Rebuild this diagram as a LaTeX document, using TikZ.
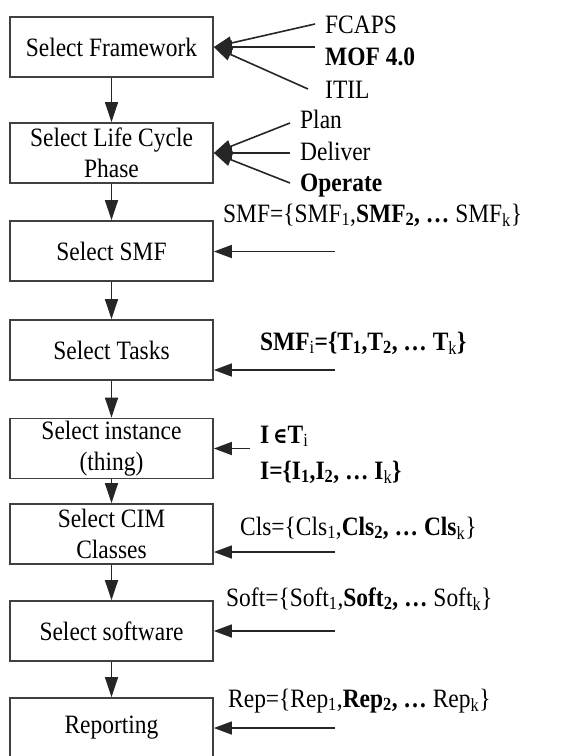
\documentclass[tikz,border=0pt]{standalone}
\usepackage{fontspec}
\usepackage{graphicx}
\setmainfont{Liberation Serif}
\newfontfamily\symfnt{DejaVu Serif}
\usetikzlibrary{arrows.meta}
\newcommand\sbs[1]{\textsubscript{#1}}
\newcommand\sq[1]{\scalebox{0.885}[1]{#1}}
\begin{document}
\begin{tikzpicture}[x=1pt,y=-1pt,
  box/.style={draw=black!75, line width=1.7pt, minimum width=203pt, minimum height=60pt,
    align=center, inner sep=0pt, font=\fontsize{26.5}{31}\selectfont},
  lbl/.style={anchor=base west, inner sep=0pt, font=\fontsize{26.5}{31}\selectfont},
  flow/.style={draw=black!85, line width=1.5pt, -{Triangle[length=20pt,width=13pt]}},
  feed/.style={draw=black!85, line width=1.6pt, -{Triangle[length=18pt,width=13pt]}}]
\useasboundingbox (0,0) rectangle (584,756);

% boxes
\node[box] (b1) at (111.5,47)    {\sq{Select Framework}};
\node[box] (b2) at (111.5,153)   {\sq{Select Life Cycle}\\\sq{Phase}};
\node[box] (b3) at (111.5,251)   {\sq{Select SMF}};
\node[box] (b4) at (111.5,350)   {\sq{Select Tasks}};
\node[box] (b5) at (111.5,448.5) {\sq{Select instance}\\\sq{(thing)}};
\node[box] (b6) at (111.5,534)   {\sq{Select CIM}\\\sq{Classes}};
\node[box] (b7) at (111.5,631)   {\sq{Select software}};
\node[box] (b8) at (111.5,728)   {\sq{Reporting}};

% flow arrows
\draw[flow] (b1) -- (b2);
\draw[flow] (b2) -- (b3);
\draw[flow] (b3) -- (b4);
\draw[flow] (b4) -- (b5);
\draw[flow] (b5) -- (b6);
\draw[flow] (b6) -- (b7);
\draw[flow] (b7) -- (b8);

% labels
\node[lbl] (fcaps) at (325,33)  {\sq{FCAPS}};
\node[lbl] (mof)   at (325,65)  {\sq{\textbf{MOF 4.0}}};
\node[lbl] (itil)  at (325,98)  {\sq{ITIL}};
\node[lbl] (plan)  at (300,128) {\sq{Plan}};
\node[lbl] (deliv) at (300,160) {\sq{Deliver}};
\node[lbl] (oper)  at (300,191) {\sq{\textbf{Operate}}};
\node[lbl] (smf)   at (223,222) {\sq{SMF=\{SMF\sbs{1},\textbf{SMF\sbs{2}, …} SMF\sbs{k}\}}};
\node[lbl] (smfi)  at (260,350) {\sq{\textbf{SMF}\sbs{i}\textbf{=\{T\sbs{1},T\sbs{2}, … T}\sbs{k}\textbf{\}}}};
\node[lbl] (iin)   at (260,443) {\sq{\textbf{I\,{\symfnt\fontsize{22}{26}\selectfont ∈}T}\sbs{i}}};
\node[lbl] (iset)  at (260,479) {\sq{\textbf{I=\{I\sbs{1},I\sbs{2}, … I}\sbs{k}\textbf{\}}}};
\node[lbl] (cls)   at (240,535) {\sq{Cls=\{Cls\sbs{1},\textbf{Cls\sbs{2}, … Cls}\sbs{k}\}}};
\node[lbl] (soft)  at (226,606) {\sq{Soft=\{Soft\sbs{1},\textbf{Soft\sbs{2}, …} Soft\sbs{k}\}}};
\node[lbl] (rep)   at (228,707) {\sq{Rep=\{Rep\sbs{1},\textbf{Rep\sbs{2}, …} Rep\sbs{k}\}}};

% feed line ends
\coordinate (e1a) at (315,24);
\coordinate (e1b) at (315,47);
\coordinate (e1c) at (308,89);
\coordinate (e2a) at (290,123);
\coordinate (e2b) at (290,153);
\coordinate (e2c) at (290,183);
\coordinate (e3) at (335,251.5);
\coordinate (e4) at (335,370);
\coordinate (e5) at (250,448.5);
\coordinate (e6) at (335,552);
\coordinate (e7) at (335,631);
\coordinate (e8) at (335,728);

\draw[feed] (e1a) -- (b1.east);
\draw[feed] (e1b) -- (b1.east);
\draw[feed] (e1c) -- (b1.east);
\draw[feed] (e2a) -- (b2.east);
\draw[feed] (e2b) -- (b2.east);
\draw[feed] (e2c) -- (b2.east);
\draw[feed] (e3) -- (e3 -| b3.east);
\draw[feed] (e4) -- (e4 -| b4.east);
\draw[feed] (e5) -- (e5 -| b5.east);
\draw[feed] (e6) -- (e6 -| b6.east);
\draw[feed] (e7) -- (e7 -| b7.east);
\draw[feed] (e8) -- (e8 -| b8.east);
\end{tikzpicture}
\end{document}
